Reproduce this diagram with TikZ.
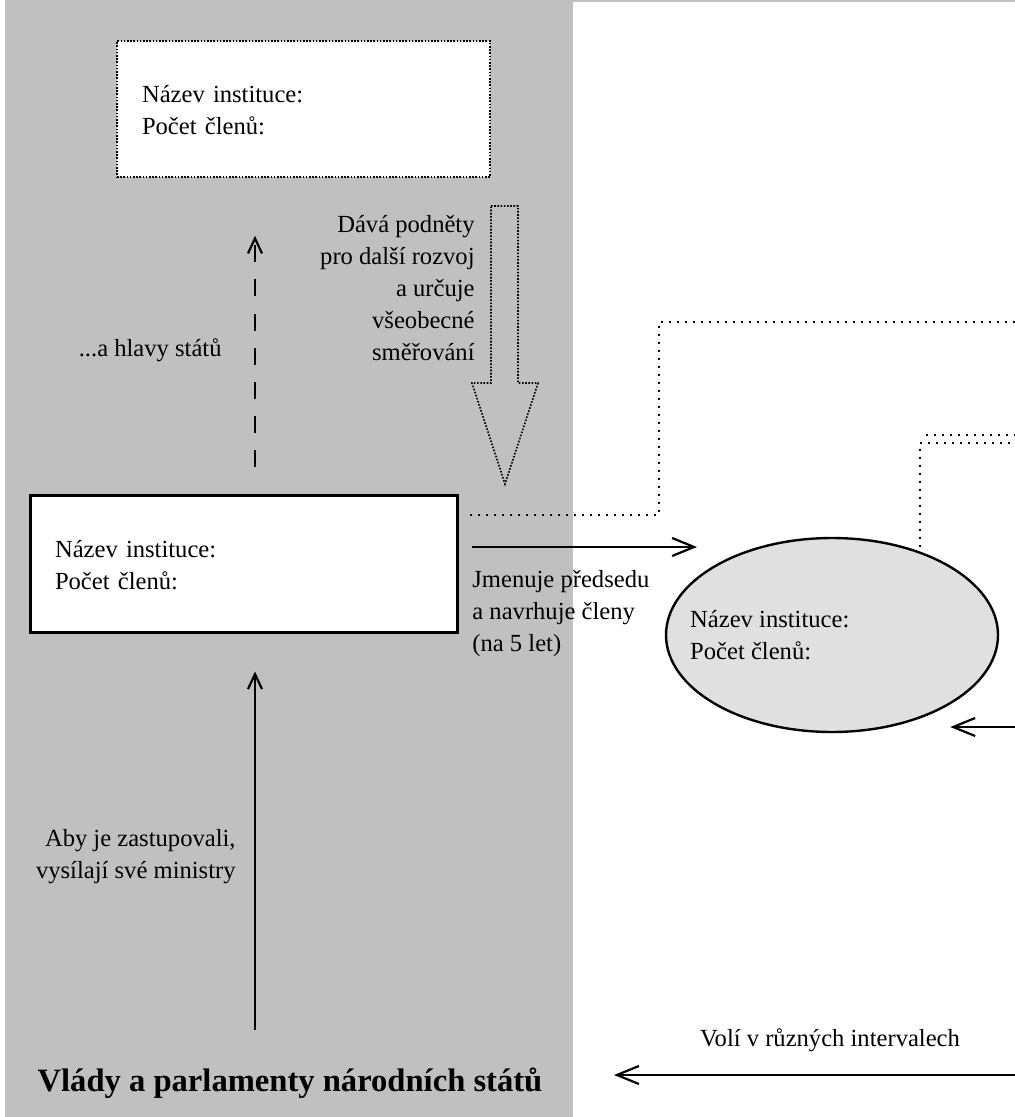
\documentclass[tikz,border=0pt]{standalone}
\usepackage{fontspec}
\setmainfont{Liberation Serif}
\usetikzlibrary{arrows.meta,positioning,shapes.geometric}
\definecolor{panelgray}{RGB}{192,192,192}
\definecolor{ellgray}{RGB}{224,224,224}
\tikzset{
  inst/.style={draw, fill=white, rectangle, align=left, inner xsep=12.5pt, inner ysep=0pt, text height=10pt, text depth=16pt},
  lbl/.style={inner sep=0pt},
  dotfine/.style={line width=0.8pt, dash pattern=on 0.8pt off 0.8pt},
  dotline/.style={line width=1pt, dash pattern=on 1pt off 3pt},
  smallarr/.style={line width=1.1pt, -{Straight Barb[length=7.5pt,width=7pt]}},
  bigarr/.style={line width=1.1pt, -{Straight Barb[length=11pt,width=9pt]}},
}

\begin{document}
\begin{tikzpicture}[x=0.5pt, y=-0.5pt, font=\fontsize{12.3}{16}\selectfont]
    \useasboundingbox (0,0) rectangle (1015,1117);
    \fill[panelgray] (5,0) rectangle (573,1117);
    \fill[panelgray] (573,0) rectangle (1015,2.5);
    %灰色背景(panelgray),左侧一栏和上边一条细线

    \node[inst, dotfine, text width=161.5pt, minimum height=68pt] (topbox) at (303.5,109) {Název instituce:\\Počet členů:};
    %上方虚点框(dotfine),文字左对齐(align=left)
    \node[inst, line width=1.5pt, text width=188.5pt, minimum height=68.5pt] (midbox) at (243.5,563.5) {Název instituce:\\Počet členů:};
    %中间实线框(midbox)
    \node[draw, ellipse, fill=ellgray, line width=1.2pt, minimum width=166pt, minimum height=97pt, inner sep=0pt,
          label={[anchor=west, align=left, inner sep=0pt, label distance=-12.5pt]180:{Název instituce:\\Počet členů:}}] (council) at (832,635) {};
    %右侧椭圆(ellipse),文字放在左边(label)
    \node[font=\fontsize{16.3}{19}\selectfont\bfseries] (govs) at (290,1083) {Vlády a parlamenty národních států};
    %底部粗体文字(bfseries)

    \coordinate (axis) at (255,0);
    \coordinate (axisbot) at (255,1030);
    \draw[smallarr, dash pattern=on 8.5pt off 8.5pt, shorten <=13.5pt, shorten >=29pt] (midbox.north -| axis) -- (topbox.south -| axis);
    \node[lbl, anchor=east] (hlavy) at (222,350) {...a hlavy států};
    %虚线箭头(dashed)向上,文字显示在左侧
    \draw[smallarr, shorten >=19pt] (axisbot) -- (midbox.south -| axisbot);
    \node[lbl, anchor=east, align=right] (ministri) at (236,857) {Aby je zastupovali,\\vysílají své ministry};
    %实线箭头向上,文字右对齐(align=right)

    \draw[dotfine] (491,206) -- (518,206) -- (518,383) -- (538,383) -- (505,484) -- (472,383) -- (491,383) -- cycle;
    %空心箭头(hollow arrow),用点线绘制
    \node[lbl, anchor=east, align=right] (podnety) at (475,288) {Dává podněty\\pro další rozvoj\\a určuje\\všeobecné\\směřování};

    \coordinate (jmen) at (472,547);
    \coordinate (jmenend) at (697,547);
    \draw[bigarr] (jmen) -- (jmenend);
    \node[lbl, anchor=north west, align=left] (jmenuje) at (472,570) {Jmenuje předsedu\\a navrhuje členy\\(na 5 let)};
    %向右箭头(bigarr),文字显示在下方
    \draw[dotline] (470,515) -| (659,322) -- (1015,322);
    \draw[dotline] (920,547) |- (1015,443);
    \draw[dotline] (926,435) -- (1015,435);
    %点线(dotline)连接到右侧

    \coordinate (vpravo) at (1015,727);
    \draw[bigarr] (vpravo) -- (vpravo -| council.south east);
    %从右侧指向椭圆
    \coordinate (volir) at (1015,1075);
    \coordinate (volil) at (614,1075);
    \draw[bigarr] (volir) -- (volil);
    \node (voli) at (830,1040) {Volí v různých intervalech};
    %底部向左箭头,文字显示在上方
\end{tikzpicture}
\end{document}
